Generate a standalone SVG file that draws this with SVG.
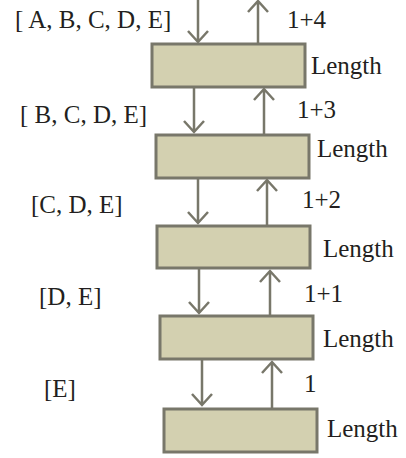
<svg xmlns="http://www.w3.org/2000/svg" width="406" height="458" viewBox="0 0 406 458">
<style>
.box{fill:#d3d0b0;stroke:#78776a;stroke-width:3}
.ar{fill:none;stroke:#78776a;stroke-width:2.5}
text{font-family:"Liberation Serif","Times New Roman",serif;font-size:25px;fill:#231f20}
</style>
<rect width="406" height="458" fill="#fff"/>
<g id="connectors">
<path class="ar" d="M198 0V42M188 31L198 42L208 31"/>
<path class="ar" d="M258 43V1M248 12L258 1L268 12"/>
<path class="ar" d="M194 88V132M184 121L194 132L204 121"/>
<path class="ar" d="M264 134V89M254 100L264 89L274 100"/>
<path class="ar" d="M198 179V223M188 212L198 223L208 212"/>
<path class="ar" d="M267 225V180M257 191L267 180L277 191"/>
<path class="ar" d="M199 269V313M189 302L199 313L209 302"/>
<path class="ar" d="M270 315V271M260 282L270 271L280 282"/>
<path class="ar" d="M202 360V405M192 394L202 405L212 394"/>
<path class="ar" d="M272 408V362M262 373L272 362L282 373"/>
<text x="287" y="28">1+4</text>
<text x="297" y="118">1+3</text>
<text x="302" y="208">1+2</text>
<text x="304" y="302">1+1</text>
<text x="304" y="392">1</text>
<text x="15" y="28">[ A, B, C, D, E]</text>
<text x="20" y="123">[ B, C, D, E]</text>
<text x="31" y="213">[C, D, E]</text>
<text x="39" y="305">[D, E]</text>
<text x="44" y="397">[E]</text>
</g>
<g id="node1"><rect class="box" x="152" y="44" width="153" height="43"/><text x="311" y="74">Length</text></g>
<g id="node2"><rect class="box" x="156" y="135" width="153" height="43"/><text x="317" y="157">Length</text></g>
<g id="node3"><rect class="box" x="157" y="226" width="153" height="42"/><text x="323" y="257">Length</text></g>
<g id="node4"><rect class="box" x="160" y="316" width="153" height="43"/><text x="323" y="347">Length</text></g>
<g id="node5"><rect class="box" x="164" y="409" width="153" height="43"/><text x="327" y="437">Length</text></g>
</svg>
